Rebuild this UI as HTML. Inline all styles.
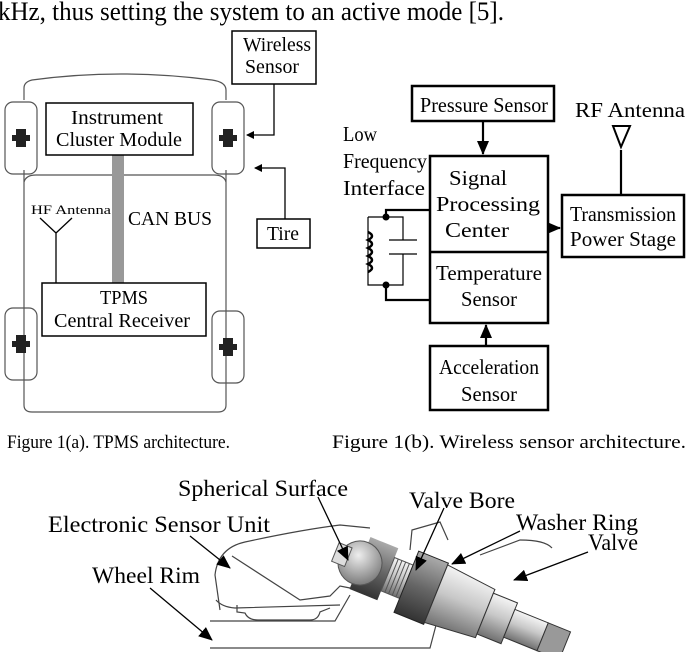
<!DOCTYPE html>
<html><head><meta charset="utf-8"><style>
html,body{margin:0;padding:0;background:#fff;}
svg{display:block;font-family:"Liberation Serif",serif;}
</style></head><body>
<svg width="688" height="652" viewBox="0 0 688 652" xmlns="http://www.w3.org/2000/svg">
<defs>
<marker id="ah" markerWidth="8" markerHeight="8" refX="7" refY="4" orient="auto" markerUnits="userSpaceOnUse"><path d="M0,0 L8,4 L0,8 z" fill="#000"/></marker>
<marker id="ah2" markerWidth="14" markerHeight="12" refX="13" refY="6" orient="auto" markerUnits="userSpaceOnUse"><path d="M0,0 L14,6 L0,12 z" fill="#000"/></marker>
<linearGradient id="g1" x1="0" y1="0" x2="0" y2="1"><stop offset="0" stop-color="#f4f4f4"/><stop offset="0.45" stop-color="#c8c8c8"/><stop offset="1" stop-color="#707070"/></linearGradient>
<linearGradient id="g2" x1="0" y1="0" x2="0" y2="1"><stop offset="0" stop-color="#aaa"/><stop offset="0.5" stop-color="#666"/><stop offset="1" stop-color="#333"/></linearGradient>
<radialGradient id="rb" cx="0.4" cy="0.35" r="0.7"><stop offset="0" stop-color="#eee"/><stop offset="1" stop-color="#777"/></radialGradient>
</defs>
<text x="-2" y="20" font-size="26" textLength="506" lengthAdjust="spacingAndGlyphs">kHz, thus setting the system to an active mode [5].</text>

<!-- ===== Fig 1(a) ===== -->
<g fill="none" stroke="#555" stroke-width="1.2">
<path d="M24,100 L24,88 Q24,82 32,80 Q120,68 212,80 Q226,82 226,90 L226,100"/>
<path d="M24,170 L24,405 Q24,412 32,412 L218,412 Q226,412 226,405 L226,170"/>
<path d="M24,182 Q26,175 36,175 L214,175 Q224,175 226,182"/>
<rect x="5" y="102" width="32" height="72" rx="8"/>
<rect x="212" y="102" width="32" height="72" rx="8"/>
<rect x="5" y="308" width="32" height="72" rx="8"/>
<rect x="212" y="311" width="32" height="72" rx="8"/>
</g>
<g fill="#222">
<g transform="translate(21,138)"><rect x="-5" y="-9" width="10" height="18"/><rect x="-9" y="-3" width="18" height="6"/></g>
<g transform="translate(228,138)"><rect x="-5" y="-9" width="10" height="18"/><rect x="-9" y="-3" width="18" height="6"/></g>
<g transform="translate(21,344)"><rect x="-5" y="-9" width="10" height="18"/><rect x="-9" y="-3" width="18" height="6"/></g>
<g transform="translate(228,347)"><rect x="-5" y="-9" width="10" height="18"/><rect x="-9" y="-3" width="18" height="6"/></g>
</g>
<rect x="112" y="155" width="12" height="128" fill="#999"/>
<g fill="#fff" stroke="#000" stroke-width="1.5">
<rect x="46" y="103" width="147" height="52"/>
<rect x="42" y="283" width="164" height="53"/>
<rect x="232" y="31" width="84" height="53"/>
<rect x="257" y="219" width="53" height="29"/>
</g>
<g fill="none" stroke="#000" stroke-width="1.3">
<path d="M274,84 L274,135 L247,135" marker-end="url(#ah)"/>
<path d="M285,219 L285,168 L255,168" marker-end="url(#ah)"/>
<path d="M56,283 L56,233 M56,233 L40,218 M56,233 L72,218"/>
</g>
<g font-size="20" text-anchor="middle" lengthAdjust="spacingAndGlyphs">
<text x="117" y="124" textLength="92" lengthAdjust="spacingAndGlyphs">Instrument</text>
<text x="119" y="146" textLength="126" lengthAdjust="spacingAndGlyphs">Cluster Module</text>
<text x="124" y="304" textLength="48" lengthAdjust="spacingAndGlyphs">TPMS</text>
<text x="122" y="327" textLength="136" lengthAdjust="spacingAndGlyphs">Central Receiver</text>
<text x="277" y="51" textLength="68" lengthAdjust="spacingAndGlyphs">Wireless</text>
<text x="272" y="73" textLength="54" lengthAdjust="spacingAndGlyphs">Sensor</text>
<text x="283" y="240" textLength="32" lengthAdjust="spacingAndGlyphs">Tire</text>
<text x="170" y="225" textLength="84" lengthAdjust="spacingAndGlyphs">CAN BUS</text>
<text x="71" y="214" font-size="13" textLength="80" lengthAdjust="spacingAndGlyphs">HF Antenna</text>
</g>

<!-- ===== Fig 1(b) ===== -->
<g fill="#fff" stroke="#000" stroke-width="2.5">
<rect x="412" y="86" width="142" height="35"/>
<rect x="430" y="156" width="118" height="167"/>
<rect x="430" y="346" width="118" height="64"/>
<rect x="562" y="195" width="122" height="62"/>
</g>
<line x1="430" y1="252" x2="548" y2="252" stroke="#000" stroke-width="2.5"/>
<g fill="none" stroke="#000" stroke-width="2.2">
<path d="M483,121 L483,154" marker-end="url(#ah2)"/>
<path d="M486,346 L486,325" marker-end="url(#ah2)"/>
<path d="M548,228 L560,228" marker-end="url(#ah2)"/>
<path d="M430,210 L386,210 L386,217 M386,285 L386,300 L430,300"/>
<path d="M621,195 L621,150"/>
</g>
<path d="M613,126 L630,126 L621,147 z" fill="none" stroke="#000" stroke-width="2"/>
<g fill="none" stroke="#000" stroke-width="1.2">
<path d="M368,217 L403,217 L403,240 M403,254 L403,285 L368,285 L368,217"/>
<path d="M389,240 L417,240 M389,254 L417,254"/>
</g>
<path d="M368,232 q8,4 0,8 q8,4 0,8 q8,4 0,8 q8,4 0,8 q8,4 0,8" fill="none" stroke="#000" stroke-width="2.5"/>
<circle cx="386" cy="217" r="3.5"/><circle cx="386" cy="285" r="3.5"/>
<g font-size="21" text-anchor="middle">
<text x="484" y="112" textLength="128" lengthAdjust="spacingAndGlyphs">Pressure Sensor</text>
<text x="478" y="185" textLength="58" lengthAdjust="spacingAndGlyphs">Signal</text>
<text x="488" y="211" textLength="104" lengthAdjust="spacingAndGlyphs">Processing</text>
<text x="477" y="237" textLength="64" lengthAdjust="spacingAndGlyphs">Center</text>
<text x="489" y="280" textLength="106" lengthAdjust="spacingAndGlyphs">Temperature</text>
<text x="489" y="306" textLength="56" lengthAdjust="spacingAndGlyphs">Sensor</text>
<text x="489" y="374" textLength="100" lengthAdjust="spacingAndGlyphs">Acceleration</text>
<text x="489" y="401" textLength="56" lengthAdjust="spacingAndGlyphs">Sensor</text>
<text x="623" y="221" textLength="106" lengthAdjust="spacingAndGlyphs">Transmission</text>
<text x="623" y="246" textLength="106" lengthAdjust="spacingAndGlyphs">Power Stage</text>
<text x="630" y="117" textLength="110" lengthAdjust="spacingAndGlyphs">RF Antenna</text>
</g>
<g font-size="21">
<text x="343" y="141" textLength="34" lengthAdjust="spacingAndGlyphs">Low</text>
<text x="343" y="168" textLength="84" lengthAdjust="spacingAndGlyphs">Frequency</text>
<text x="343" y="195" textLength="82" lengthAdjust="spacingAndGlyphs">Interface</text>
</g>

<!-- captions -->
<g font-size="19">
<text x="7" y="448" textLength="223" lengthAdjust="spacingAndGlyphs">Figure 1(a). TPMS architecture.</text>
<text x="332" y="448" textLength="354" lengthAdjust="spacingAndGlyphs">Figure 1(b). Wireless sensor architecture.</text>
</g>

<!-- ===== bottom photo ===== -->
<g fill="none" stroke="#444" stroke-width="1.2">
<path d="M220,610 L215,575 Q218,548 245,542 Q300,530 340,525 L370,528"/>
<path d="M232,556 L300,600 L330,596 L340,586 L350,588"/>
<path d="M216,600 Q222,607 235,608 L340,605"/>
<path d="M237,605 L237,612 L245,613 Q248,620 258,620 L310,620 Q318,620 320,612 L330,608"/>
<path d="M210,621 L335,621 L350,595"/>
<path d="M210,648 L430,648 L440,610"/>
<path d="M480,555 L520,540 Q545,540 552,548"/>
<path d="M410,550 L412,530 L440,522 L448,540"/>
</g>
<g transform="rotate(22,360,563)">
<rect x="360" y="535" width="30" height="56" fill="url(#g2)"/>
<circle cx="360" cy="563" r="22" fill="url(#rb)" stroke="#555"/>
<rect x="333" y="552" width="14" height="20" fill="#ddd" stroke="#555"/>
<rect x="390" y="545" width="20" height="36" fill="url(#g1)" stroke="#555"/>
<path d="M394,545 v36 M398,545 v36 M402,545 v36 M406,545 v36" stroke="#555"/>
<rect x="410" y="530" width="32" height="66" fill="url(#g2)" stroke="#222"/>
<path d="M442,532 L495,537 L495,589 L442,594 z" fill="url(#g1)" stroke="#333"/>
<rect x="495" y="541" width="26" height="44" fill="url(#g1)" stroke="#333"/>
<rect x="521" y="548" width="36" height="30" fill="url(#g1)" stroke="#333"/>
<rect x="557" y="548" width="24" height="30" fill="#999" stroke="#333"/>
</g>
<g stroke="#000" stroke-width="1.3" fill="none">
<path d="M190,536 L230,568" marker-end="url(#ah2)"/>
<path d="M150,588 L212,640" marker-end="url(#ah2)"/>
<path d="M318,497 L348,560" marker-end="url(#ah2)"/>
<path d="M444,508 L416,570" marker-end="url(#ah2)"/>
<path d="M520,531 L452,564" marker-end="url(#ah2)"/>
<path d="M588,552 L514,580" marker-end="url(#ah2)"/>
</g>
<g font-size="23">
<text x="178" y="496" textLength="170" lengthAdjust="spacingAndGlyphs">Spherical Surface</text>
<text x="409" y="508" textLength="106" lengthAdjust="spacingAndGlyphs">Valve Bore</text>
<text x="48" y="532" textLength="222" lengthAdjust="spacingAndGlyphs">Electronic Sensor Unit</text>
<text x="516" y="530" textLength="122" lengthAdjust="spacingAndGlyphs">Washer Ring</text>
<text x="588" y="550" textLength="50" lengthAdjust="spacingAndGlyphs">Valve</text>
<text x="92" y="583" textLength="108" lengthAdjust="spacingAndGlyphs">Wheel Rim</text>
</g>
</svg>
</body></html>
